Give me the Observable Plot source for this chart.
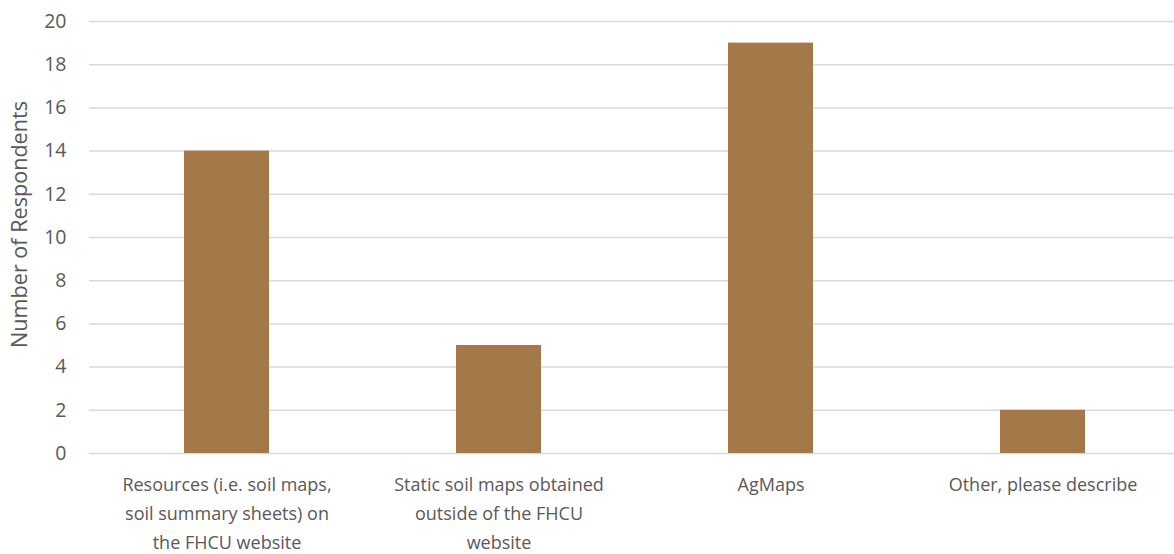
<!DOCTYPE html>
<html>
<head>
<meta charset="utf-8">
<script src="https://cdn.jsdelivr.net/npm/d3@7"></script>
<script src="https://cdn.jsdelivr.net/npm/@observablehq/plot@0.6"></script>
<style>
  html, body { margin: 0; padding: 0; background: #fff; overflow: hidden; }
  #chart svg { display: block; }
</style>
</head>
<body>
<div id="chart"></div>
<script>
const categories = [
  "Resources (i.e. soil maps,\nsoil summary sheets) on\nthe FHCU website",
  "Static soil maps obtained\noutside of the FHCU\nwebsite",
  "AgMaps",
  "Other, please describe"
];
const respondents = [14, 5, 19, 2];
const yTicks = [0, 2, 4, 6, 8, 10, 12, 14, 16, 18, 20];
const yLabel = "Number of Respondents";

const data = categories.map((c, i) => ({category: c, value: respondents[i]}));
const font = "'Open Sans', 'Liberation Sans', sans-serif";

const chart = Plot.plot({
  width: 1174,
  height: 554,
  marginTop: 21,
  marginBottom: 101,
  marginLeft: 89,
  marginRight: -6,
  style: {fontFamily: font, fontSize: "18px", color: "#595959", background: "#fff", overflow: "visible"},
  x: {domain: categories, paddingInner: 0.688, paddingOuter: 0.344},
  y: {domain: [0, 20]},
  marks: [
    Plot.gridY(yTicks, {stroke: "#D9D9D9", strokeOpacity: 1, strokeWidth: 1.5}),
    Plot.barY(data, {x: "category", y: "value", fill: "#A47848"}),
    Plot.axisY(yTicks, {tickSize: 0, tickPadding: 23, fontSize: 19.5, fill: "#595959", label: null}),
    Plot.text([yLabel], {
      frameAnchor: "left", dx: -69, dy: -13, rotate: -90, text: d => d,
      fontSize: 21.6, fill: "#595959", textAnchor: "middle"
    }),
    Plot.axisX({tickSize: 0, tickPadding: 17, fontSize: 18, fill: "#595959", lineHeight: 1.6, label: null})
  ]
});
document.getElementById("chart").appendChild(chart);
</script>
</body>
</html>
